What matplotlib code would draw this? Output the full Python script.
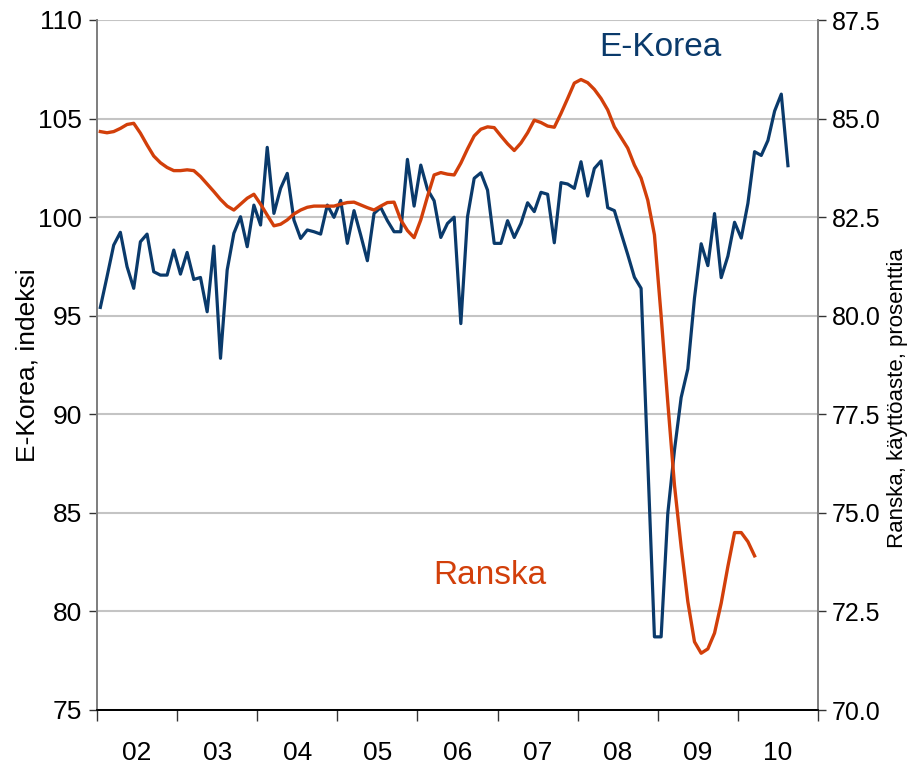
import matplotlib
matplotlib.use("Agg")
import matplotlib.pyplot as plt
from matplotlib import font_manager
import numpy as np

# ---- data ----
years = ["02", "03", "04", "05", "06", "07", "08", "09", "10"]

korea = [95.42, 96.98, 98.58, 99.23, 97.49, 96.39, 98.75, 99.14, 97.23, 97.06,
         97.06, 98.33, 97.11, 98.21, 96.84, 96.94, 95.20, 98.53, 92.84, 97.32,
         99.18, 100.02, 98.50, 100.61, 99.60, 103.54, 100.19, 101.46, 102.22, 99.85,
         98.92, 99.35, 99.26, 99.14, 100.61, 99.99, 100.85, 98.67, 100.33, 99.09,
         97.79, 100.19, 100.49, 99.82, 99.26, 99.26, 102.93, 100.56, 102.64, 101.41,
         100.83, 98.97, 99.68, 100.00, 94.60, 100.02, 101.97, 102.25, 101.37, 98.67,
         98.67, 99.82, 98.97, 99.68, 100.73, 100.28, 101.26, 101.16, 98.70, 101.75,
         101.68, 101.46, 102.81, 101.07, 102.47, 102.85, 100.48, 100.33, 99.20, 98.10,
         96.95, 96.39, 87.60, 78.71, 78.71, 84.97, 88.18, 90.85, 92.30, 95.90,
         98.65, 97.54, 100.18, 96.93, 98.02, 99.74, 98.94, 100.70, 103.32, 103.13,
         103.89, 105.38, 106.24, 102.61]

ranska = [84.67, 84.64, 84.67, 84.75, 84.85, 84.88, 84.63, 84.33, 84.05, 83.88,
          83.76, 83.68, 83.68, 83.70, 83.68, 83.53, 83.34, 83.15, 82.95, 82.78,
          82.68, 82.83, 82.98, 83.08, 82.83, 82.55, 82.28, 82.32, 82.43, 82.58,
          82.68, 82.75, 82.78, 82.78, 82.78, 82.78, 82.83, 82.87, 82.88, 82.81,
          82.74, 82.68, 82.78, 82.87, 82.88, 82.43, 82.16, 81.98, 82.43, 83.02,
          83.57, 83.63, 83.59, 83.57, 83.87, 84.23, 84.56, 84.73, 84.79, 84.77,
          84.56, 84.36, 84.19, 84.38, 84.64, 84.96, 84.90, 84.81, 84.78, 85.13,
          85.51, 85.90, 85.99, 85.91, 85.74, 85.51, 85.22, 84.79, 84.52, 84.25,
          83.82, 83.49, 82.93, 82.05, 80.00, 77.80, 75.70, 74.14, 72.75, 71.73,
          71.44, 71.55, 71.95, 72.71, 73.64, 74.50, 74.50, 74.27, 73.91]

left_ticks = [75, 80, 85, 90, 95, 100, 105, 110]
right_ticks = [70.0, 72.5, 75.0, 77.5, 80.0, 82.5, 85.0, 87.5]

# ---- fonts ----
names = {f.name for f in font_manager.fontManager.ttflist}
fam = ["Liberation Sans Narrow", "Liberation Sans", "DejaVu Sans"]
fam = [f for f in fam if f in names] or ["DejaVu Sans"]
plt.rcParams["font.family"] = fam

BLUE = "#0a3a6b"
RED = "#d23f0a"

fig = plt.figure(figsize=(9.14, 7.69), dpi=100)
ax = fig.add_axes([97/914, 1-710/769, (818-97)/914, (710-20)/769])
ax2 = ax.twinx()

xk = np.arange(len(korea))
xr = np.arange(len(ranska))

ax.plot(xk, korea, color=BLUE, lw=2.3, zorder=3)
ax2.plot(xr, ranska, color=RED, lw=2.4, zorder=3)

ax.set_ylim(75, 110)
ax2.set_ylim(70, 87.5)
ax.set_xlim(-0.5, 12*len(years) - 0.5)

ax.set_yticks(left_ticks)
ax.set_yticklabels([str(v) for v in left_ticks])
ax2.set_yticks(right_ticks)
ax2.set_yticklabels([f"{v:.1f}" for v in right_ticks])

ax.set_xticks([-0.5 + 12*k for k in range(len(years)+1)])
ax.set_xticklabels([])
ax.set_xticks([5.5 + 12*k for k in range(len(years))], minor=True)
ax.set_xticklabels(years, minor=True)
ax.tick_params(axis="x", which="minor", length=0, pad=22, labelsize=19)
ax.tick_params(axis="x", which="major", length=8, width=1, color="#333333")
ax.tick_params(axis="y", length=6, width=1, color="#333333", labelsize=19, pad=5)
ax2.tick_params(axis="y", length=6, width=1, color="#333333", labelsize=18, pad=4)

ax.grid(axis="y", color="#c4c4c4", lw=1.5, zorder=0)
ax.set_axisbelow(True)

for a in (ax, ax2):
    a.spines["top"].set_visible(False)
    a.spines["left"].set_color("#7f7f7f")
    a.spines["right"].set_color("#7f7f7f")
    a.spines["bottom"].set_color("#000000")
    a.spines["left"].set_linewidth(1.3)
    a.spines["right"].set_linewidth(1.3)
    a.spines["bottom"].set_linewidth(1.3)

fig.text(28/914, 1-365/769, "E-Korea, indeksi", rotation=90, ha="center", va="center",
         fontsize=19)
fig.text(898/914, 1-398/769, "Ranska, käyttöaste, prosenttia", rotation=90,
         ha="center", va="center", fontsize=16)

ax.text(0.696, 0.96, "E-Korea", transform=ax.transAxes, color=BLUE, fontsize=24,
        ha="left", va="center")
ax.text(0.466, 0.195, "Ranska", transform=ax.transAxes, color=RED, fontsize=24,
        ha="left", va="center")

fig.savefig("out.png", dpi=100)
